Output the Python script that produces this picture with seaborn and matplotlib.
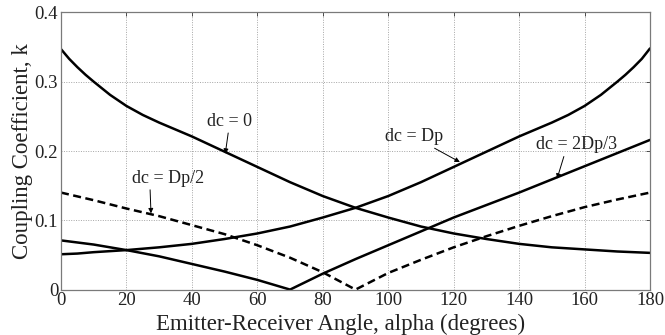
import matplotlib
matplotlib.use("Agg")
import matplotlib.pyplot as plt
import seaborn as sns
import pandas as pd

# Emitter-receiver angle (degrees) and coupling coefficient k for each offset dc
alpha_dc0 = [0, 2.5, 5, 7.5, 10, 15, 20, 25, 30, 40, 50, 60, 70, 80, 90, 100, 110, 120, 130, 140, 150, 160, 170, 180]
k_dc0 = [0.347, 0.333, 0.321, 0.310, 0.300, 0.281, 0.265, 0.252, 0.241, 0.221, 0.199, 0.177, 0.155, 0.135, 0.118,
         0.104, 0.091, 0.081, 0.073, 0.066, 0.061, 0.058, 0.055, 0.053]

alpha_dcDp = [0, 5, 10, 20, 30, 40, 50, 60, 70, 80, 90, 100, 110, 120, 130, 140, 150, 155, 160, 165, 170, 172.5, 175, 177.5, 180]
k_dcDp = [0.051, 0.052, 0.054, 0.057, 0.061, 0.066, 0.073, 0.081, 0.091, 0.104, 0.118, 0.135,
          0.155, 0.177, 0.199, 0.221, 0.241, 0.252, 0.265, 0.281, 0.300, 0.310, 0.321, 0.333, 0.348]

alpha_dc2Dp3 = [0, 10, 20, 30, 40, 50, 60, 70, 80, 90, 100, 110, 120, 130, 140, 150, 160, 170, 180]
k_dc2Dp3 = [0.071, 0.065, 0.057, 0.048, 0.037, 0.026, 0.014, 0.0, 0.023, 0.044, 0.064, 0.084,
            0.104, 0.122, 0.140, 0.159, 0.178, 0.197, 0.216]

alpha_dcDp2 = [0, 10, 20, 30, 40, 50, 60, 70, 80, 90, 100, 110, 120, 130, 140, 150, 160, 170, 180]
k_dcDp2 = [0.140, 0.129, 0.117, 0.106, 0.093, 0.080, 0.064, 0.046, 0.025, 0.0, 0.024, 0.043,
           0.061, 0.077, 0.092, 0.106, 0.119, 0.130, 0.140]

x_ticks = [0, 20, 40, 60, 80, 100, 120, 140, 160, 180]
y_ticks = [0, 0.1, 0.2, 0.3, 0.4]
y_tick_labels = ["0", "0.1", "0.2", "0.3", "0.4"]

sns.set_style("white")
plt.rcParams["font.family"] = ["Liberation Serif", "DejaVu Serif"]

fig = plt.figure(figsize=(6.65, 3.35), dpi=100)
ax = fig.add_axes([61 / 665, 1 - 289.6 / 335, (650 - 61) / 665, (289.6 - 12.4) / 335])

solid = dict(color="black", linewidth=1.8, ax=ax, legend=False)
sns.lineplot(data=pd.DataFrame({"alpha": alpha_dc0, "k": k_dc0}), x="alpha", y="k", **solid)
sns.lineplot(data=pd.DataFrame({"alpha": alpha_dcDp, "k": k_dcDp}), x="alpha", y="k", **solid)
sns.lineplot(data=pd.DataFrame({"alpha": alpha_dc2Dp3, "k": k_dc2Dp3}), x="alpha", y="k", **solid)
sns.lineplot(data=pd.DataFrame({"alpha": alpha_dcDp2, "k": k_dcDp2}), x="alpha", y="k",
             color="black", linewidth=1.8, ax=ax, legend=False, linestyle=(0, (3.2, 1.8)))

ax.set_xlim(0, 180)
ax.set_ylim(0, 0.4)
ax.set_xticks(x_ticks)
ax.set_xticklabels([str(t) for t in x_ticks])
ax.set_yticks(y_ticks)
ax.set_yticklabels(y_tick_labels)
ax.tick_params(direction="in", length=3, width=0.6, colors="#333333", labelcolor="#222222",
               labelsize=13.5, pad=2, top=True, right=True)
ax.grid(True, linestyle=(0, (1, 1.5)), linewidth=0.7, color="#a5a5a5")
for s in ax.spines.values():
    s.set_color("#7a7a7a")
    s.set_linewidth(0.9)

ax.set_xlabel("Emitter-Receiver Angle, alpha (degrees)", fontsize=16.5, color="#222222")
ax.xaxis.set_label_coords(0.475, -0.088)
ax.set_ylabel("Coupling Coefficient, k", fontsize=16.5, color="#222222", labelpad=1)

arrow = dict(arrowstyle="-|>", color="black", lw=0.7, mutation_scale=7, shrinkA=0, shrinkB=0)
ax.annotate("dc = 0", xy=(50.2, 0.196), xytext=(51.6, 0.243), fontsize=13,
            ha="center", va="center", color="#222222", arrowprops=arrow)
ax.annotate("dc = Dp/2", xy=(27.5, 0.110), xytext=(32.7, 0.161), fontsize=13,
            ha="center", va="center", color="#222222",
            arrowprops=dict(arrow, relpos=(0.25, 0.0)))
ax.annotate("dc = Dp", xy=(121.9, 0.184), xytext=(107.9, 0.221), fontsize=13,
            ha="center", va="center", color="#222222",
            arrowprops=dict(arrow, relpos=(0.75, 0.0)))
ax.annotate("dc = 2Dp/3", xy=(151.6, 0.160), xytext=(157.7, 0.209), fontsize=13,
            ha="center", va="center", color="#222222",
            arrowprops=dict(arrow, relpos=(0.35, 0.0)))

fig.savefig("out.png", dpi=100)
